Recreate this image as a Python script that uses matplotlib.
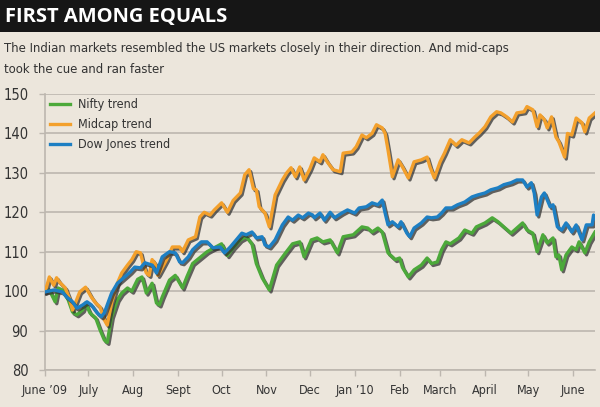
import numpy as np
import pandas as pd
import matplotlib
matplotlib.use('Agg')
import matplotlib.pyplot as plt
import matplotlib.patheffects as pe
import matplotlib.font_manager as fm
from matplotlib.lines import Line2D
from matplotlib.patches import Rectangle

# look for a narrow sans face, the original uses a condensed font
narrow = [f for f in fm.fontManager.ttflist
          if ('Narrow' in f.name or 'Condensed' in f.name or 'ondensed' in str(f.stretch))
          and 'Mono' not in f.name and 'Serif' not in f.name
          and f.style == 'normal' and f.weight in (400, 'normal', 'regular')]
if narrow:
    plt.rcParams['font.family'] = [narrow[0].name, 'DejaVu Sans']
    plt.rcParams['font.stretch'] = narrow[0].stretch
else:
    plt.rcParams['font.family'] = ['Roboto', 'DejaVu Sans']

start = pd.Timestamp('2009-06-01')

# days since 1 June 2009, index level (start = 100)
nifty_days = [0, 3, 7, 9, 12, 16, 19, 22, 26, 28, 31, 35, 38, 41, 43, 46, 50, 53, 57, 60,
              64, 67, 70, 74, 77, 79, 81, 86, 90, 95, 98, 102, 107, 112, 117, 122, 126, 130,
              135, 139, 143, 146, 150, 155, 160, 166, 171, 176, 179, 184, 188, 192, 197, 202,
              206, 213, 219, 223, 226, 230, 233, 237, 242, 245, 247, 251, 255, 260, 264, 267,
              271, 274, 277, 280, 282, 286, 290, 295, 298, 304, 309, 313, 317, 322, 326, 330,
              333, 337, 340, 344, 347, 351, 353, 355, 357, 360, 364, 367, 369, 373, 376, 380]
nifty = [99.8, 100.3, 97.3, 100.8, 100.3, 97.8, 94.7, 94.0, 95.2, 97.0, 94.5, 93.2, 90.2, 87.6,
         87.0, 93.5, 97.8, 99.5, 100.8, 100.0, 103.0, 103.6, 99.5, 102.0, 97.0, 96.5, 98.5,
         102.8, 104.0, 100.8, 103.6, 107.0, 108.5, 110.0, 111.0, 112.0, 109.0, 111.0, 113.0,
         113.8, 112.0, 107.0, 103.4, 100.3, 106.6, 109.6, 112.0, 112.5, 108.7, 113.0, 113.5,
         112.5, 113.0, 109.7, 113.8, 114.3, 116.3, 116.0, 115.0, 116.0, 115.0, 109.7, 108.0,
         108.4, 106.0, 103.6, 105.4, 106.6, 108.4, 107.0, 107.4, 110.5, 112.5, 112.0, 112.5,
         113.5, 115.5, 114.7, 116.3, 117.3, 118.6, 117.6, 116.3, 114.7, 116.0, 117.3, 115.5,
         114.7, 110.0, 114.3, 112.2, 113.5, 108.7, 109.2, 105.4, 109.2, 111.2, 110.5, 112.5,
         109.7, 112.5, 115.0]

midcap_days = [0, 1, 3, 6, 8, 10, 14, 17, 19, 21, 24, 28, 30, 32, 35, 38, 41, 43, 46, 50, 53,
               57, 60, 63, 66, 68, 70, 72, 74, 76, 78, 79, 84, 88, 93, 95, 99, 104, 107, 110,
               114, 117, 122, 126, 130, 135, 138, 141, 144, 146, 148, 152, 155, 159, 164, 167,
               170, 173, 176, 179, 183, 186, 190, 192, 195, 199, 204, 206, 212, 215, 219, 222,
               226, 229, 233, 235, 237, 240, 244, 247, 251, 255, 260, 264, 266, 269, 273, 276,
               280, 284, 288, 293, 297, 300, 304, 308, 312, 315, 319, 323, 326, 331, 333, 337,
               340, 342, 345, 347, 350, 353, 355, 359, 361, 364, 367, 371, 373, 376, 380]
midcap = [100.0, 101.0, 103.6, 101.5, 103.4, 102.3, 100.8, 98.0, 95.2, 97.0, 99.8, 101.0, 99.8,
          98.5, 97.0, 96.0, 92.7, 91.4, 97.0, 102.0, 104.6, 106.6, 108.0, 110.0, 109.7, 106.6,
          104.6, 104.0, 108.0, 107.0, 104.0, 104.6, 108.0, 111.2, 111.2, 110.0, 113.0, 113.8,
          118.8, 120.0, 119.3, 120.6, 122.4, 120.0, 123.0, 124.9, 129.5, 130.8, 126.0, 125.7,
          121.4, 119.8, 116.3, 124.4, 128.2, 130.0, 131.3, 129.0, 131.5, 128.2, 131.0, 133.8,
          132.8, 134.6, 132.8, 130.8, 130.3, 135.0, 135.3, 136.6, 139.6, 138.9, 140.0, 142.2,
          141.4, 140.0, 135.8, 129.0, 133.3, 131.5, 128.7, 132.8, 133.3, 134.0, 131.5, 128.7,
          132.8, 135.0, 138.4, 137.0, 138.4, 137.6, 139.1, 140.1, 141.7, 144.2, 145.5, 145.2,
          144.2, 142.9, 145.2, 145.5, 146.8, 146.0, 141.7, 144.7, 143.5, 141.4, 144.2, 139.1,
          137.9, 134.0, 140.0, 139.6, 143.9, 142.7, 140.4, 143.9, 145.2]

dow_days = [0, 6, 12, 15, 19, 22, 26, 29, 32, 36, 39, 41, 46, 50, 55, 59, 62, 66, 69, 74, 77,
            81, 86, 90, 93, 95, 99, 102, 104, 108, 112, 116, 121, 124, 128, 131, 136, 139, 143,
            146, 150, 152, 155, 159, 164, 168, 171, 175, 178, 182, 185, 186, 190, 193, 197, 200,
            205, 209, 214, 217, 222, 226, 230, 233, 235, 237, 240, 244, 246, 250, 252, 255, 260,
            264, 267, 271, 274, 277, 281, 285, 290, 295, 299, 304, 308, 313, 317, 322, 326, 330,
            333, 336, 338, 340, 343, 345, 349, 351, 354, 357, 360, 364, 367, 371, 374, 378, 379,
            380]
dow = [99.8, 100.3, 99.8, 98.5, 97.3, 95.7, 96.5, 97.3, 96.5, 94.5, 93.5, 94.5, 99.5, 102.0,
       103.6, 104.9, 106.1, 105.9, 107.2, 106.6, 104.6, 108.7, 110.0, 109.7, 107.4, 107.2, 108.7,
       110.5, 111.2, 112.5, 112.5, 111.0, 111.2, 109.7, 111.2, 112.5, 114.7, 114.3, 115.0, 113.5,
       113.8, 111.7, 111.2, 113.0, 116.8, 118.8, 118.0, 119.3, 118.6, 119.8, 119.3, 118.6, 119.8,
       118.0, 120.0, 118.6, 119.8, 120.6, 119.8, 121.1, 121.4, 122.4, 121.9, 123.1, 119.8, 116.8,
       117.6, 116.3, 117.6, 114.7, 113.8, 116.0, 117.3, 118.8, 118.6, 118.8, 119.8, 121.1, 121.1,
       121.9, 122.6, 123.9, 124.4, 124.9, 125.7, 126.2, 127.0, 127.5, 128.2, 128.2, 126.4, 127.5,
       124.9, 119.3, 123.9, 124.9, 121.4, 121.9, 116.3, 115.5, 117.3, 115.0, 116.8, 113.0, 116.8,
       116.8, 119.3, 118.5]

month_labels = ["June \u201909", "July", "Aug", "Sept", "Oct", "Nov", "Dec", "Jan \u201910",
                "Feb", "March", "April", "May", "June"]

green = '#4ca93a'
orange = '#f3a02c'
blue = '#1d7fc3'
bg = '#ece6dc'
grid_c = '#bdb7af'
text_c = '#333333'


def to_dates(days):
    return start + pd.to_timedelta(days, unit='D')


fig = plt.figure(figsize=(6, 4.07), dpi=100, facecolor=bg)
fig.patches.append(Rectangle((0, 1 - 32 / 407), 1, 32 / 407, transform=fig.transFigure,
                             facecolor='#161616', edgecolor='none', zorder=0))
fig.text(5 / 600, 1 - 17 / 407, 'FIRST AMONG EQUALS', color='white', fontsize=14.5,
         fontweight='bold', family=['Open Sans', 'DejaVu Sans'], stretch='normal',
         va='center', ha='left')
fig.text(4 / 600, 1 - 52 / 407,
         'The Indian markets resembled the US markets closely in their direction. And mid-caps',
         color=text_c, fontsize=9.4, va='baseline', ha='left')
fig.text(4 / 600, 1 - 73 / 407, 'took the cue and ran faster',
         color=text_c, fontsize=9.4, va='baseline', ha='left')

ax = fig.add_axes([45 / 600, 1 - 370 / 407, 550 / 600, 276 / 407])
ax.set_facecolor(bg)

shadow = [pe.SimpleLineShadow(offset=(1.2, -1.4), shadow_color='#333333', alpha=0.75),
          pe.Normal()]
ax.plot(to_dates(nifty_days), nifty, color=green, lw=2.4, path_effects=shadow,
        solid_joinstyle='round', zorder=3)
ax.plot(to_dates(midcap_days), midcap, color=orange, lw=2.4, path_effects=shadow,
        solid_joinstyle='round', zorder=4)
ax.plot(to_dates(dow_days), dow, color=blue, lw=2.4, path_effects=shadow,
        solid_joinstyle='round', zorder=5)

ax.set_ylim(80, 150)
ax.set_yticks(range(80, 151, 10))
ax.set_xlim(to_dates([0])[0], to_dates([380])[0])
month_ticks = pd.date_range('2009-06-01', '2010-06-01', freq='MS')
ax.set_xticks(month_ticks)
ax.set_xticklabels(month_labels)

ax.grid(axis='y', color=grid_c, lw=1.2)
ax.set_axisbelow(True)
for s in ['top', 'right']:
    ax.spines[s].set_visible(False)
for s in ['left', 'bottom']:
    ax.spines[s].set_color(grid_c)
    ax.spines[s].set_linewidth(1.2)
ax.tick_params(axis='both', colors=grid_c, labelcolor=text_c, length=4, width=1)
ax.tick_params(axis='y', pad=8, labelsize=10.5)
ax.tick_params(axis='x', pad=6, labelsize=9)

handles = [Line2D([], [], color=green, lw=2.4),
           Line2D([], [], color=orange, lw=2.4),
           Line2D([], [], color=blue, lw=2.4)]
ax.legend(handles, ['Nifty trend', 'Midcap trend', 'Dow Jones trend'], loc='upper left',
          bbox_to_anchor=(0.009, 0.985), borderaxespad=0, borderpad=0, frameon=False,
          fontsize=9, handlelength=1.6, labelspacing=0.55, handletextpad=0.65,
          labelcolor=text_c)

fig.savefig('out.png', dpi=100, facecolor=bg)
